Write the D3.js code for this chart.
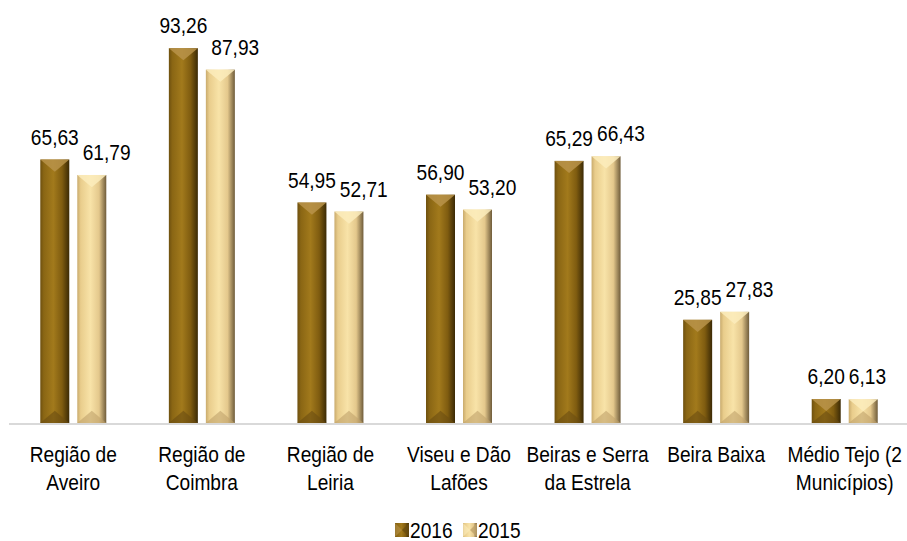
<!DOCTYPE html>
<html><head><meta charset="utf-8">
<script src="https://cdn.jsdelivr.net/npm/d3@7"></script>
<style>body{margin:0;background:#fff}svg{display:block}text{font-family:"Liberation Sans",Arial,sans-serif;fill:#000}</style>
</head><body><svg id="c" width="907" height="541"></svg>
<script>
const categories = ["Região de\nAveiro","Região de\nCoimbra","Região de\nLeiria","Viseu e Dão\nLafões","Beiras e Serra\nda Estrela","Beira Baixa","Médio Tejo (2\nMunicípios)"];
const seriesNames = ["2016","2015"];
const values2016 = [65.63,93.26,54.95,56.90,65.29,25.85,6.20];
const values2015 = [61.79,87.93,52.71,53.20,66.43,27.83,6.13];
const seriesValues = [values2016, values2015];

const FS = 22, SX = 0.87;
const svg = d3.select("#c");
const x0 = d3.scaleBand().domain(categories).range([9, 909]).padding(0);
const groupW = 66;
const x1 = d3.scaleBand().domain(seriesNames).range([0, groupW]).paddingInner(8/37).paddingOuter(0);
const y = d3.scaleLinear().domain([0, 100]).range([424, 21]);

const defs = svg.append("defs");
const pal = {
  "2016": {stops:[["0%","#6e500f"],["12%","#8a6614"],["45%","#a27a1c"],["75%","#7f5c10"],["100%","#3b2a05"]], top:"#b8934a", bot:"#6a4d10"},
  "2015": {stops:[["0%","#c9ab6d"],["12%","#e9cd8c"],["45%","#f8e3a8"],["75%","#e4c88c"],["100%","#6f5c3a"]], top:"#fcecbc", bot:"#bfa26a"}
};
seriesNames.forEach((s,i)=>{
  const g = defs.append("linearGradient").attr("id","g"+i).attr("x1","0").attr("x2","1").attr("y1","0").attr("y2","0");
  pal[s].stops.forEach(st=>g.append("stop").attr("offset",st[0]).attr("stop-color",st[1]));
});

function label(parent, x, yy, lines, anchor){
  const t = parent.append("text").attr("text-anchor",anchor||"middle").attr("font-size",FS)
    .attr("transform",`translate(${x},${yy}) scale(${SX},1)`);
  lines.forEach((ln,li)=>t.append("tspan").attr("x",0).attr("y",li*28).text(ln));
  return t;
}

svg.append("line").attr("x1",9).attr("x2",907).attr("y1",y(0)).attr("y2",y(0)).attr("stroke","#d9d9d9").attr("stroke-width",2);

categories.forEach((c,ci)=>{
  const gx = x0(c) + (x0.bandwidth()-groupW)/2;
  const labs = [];
  seriesNames.forEach((s,si)=>{
    const v = seriesValues[si][ci];
    const bx = gx + x1(s), bw = x1.bandwidth();
    const top = y(v), bot = y(0)-1;
    const h = bot - top;
    const g = svg.append("g");
    g.append("rect").attr("x",bx).attr("y",top).attr("width",bw).attr("height",h).attr("fill",`url(#g${si})`);
    const b = Math.min(bw*0.42, h/2);
    g.append("path").attr("d",`M${bx},${top}L${bx+bw},${top}L${bx+bw/2},${top+b}Z`).attr("fill",pal[s].top).attr("opacity",0.85);
    g.append("path").attr("d",`M${bx},${bot}L${bx+bw},${bot}L${bx+bw/2},${bot-b}Z`).attr("fill",pal[s].bot).attr("opacity",0.6);
    const t = label(svg, bx+bw/2, top-15, [v.toFixed(2).replace(".",",")]);
    labs.push({t, cx: bx+bw/2, y: top-15, w: t.node().getComputedTextLength()*SX});
  });
  const a = labs[0], b2 = labs[1];
  const gap = 4;
  const right0 = a.cx + a.w/2, left1 = b2.cx - b2.w/2;
  if (left1 < right0 + gap) {
    b2.cx += (right0 + gap - left1);
    b2.t.attr("transform",`translate(${b2.cx},${b2.y}) scale(${SX},1)`);
  }
  label(svg, x0(c)+x0.bandwidth()/2, 462, c.split("\n"));
});

const legX = [395, 463];
seriesNames.forEach((s,si)=>{
  const lx = legX[si];
  svg.append("rect").attr("x",lx).attr("y",523).attr("width",14).attr("height",14).attr("fill",`url(#g${si})`);
  svg.append("path").attr("d",`M${lx},${523}L${lx+7},${530}L${lx},${537}Z`).attr("fill",pal[s].top).attr("opacity",0.6);
  svg.append("path").attr("d",`M${lx+14},${523}L${lx+7},${530}L${lx+14},${537}Z`).attr("fill",pal[s].bot).attr("opacity",0.8);
  label(svg, lx+15, 538, [s], "start");
});
</script></body></html>
